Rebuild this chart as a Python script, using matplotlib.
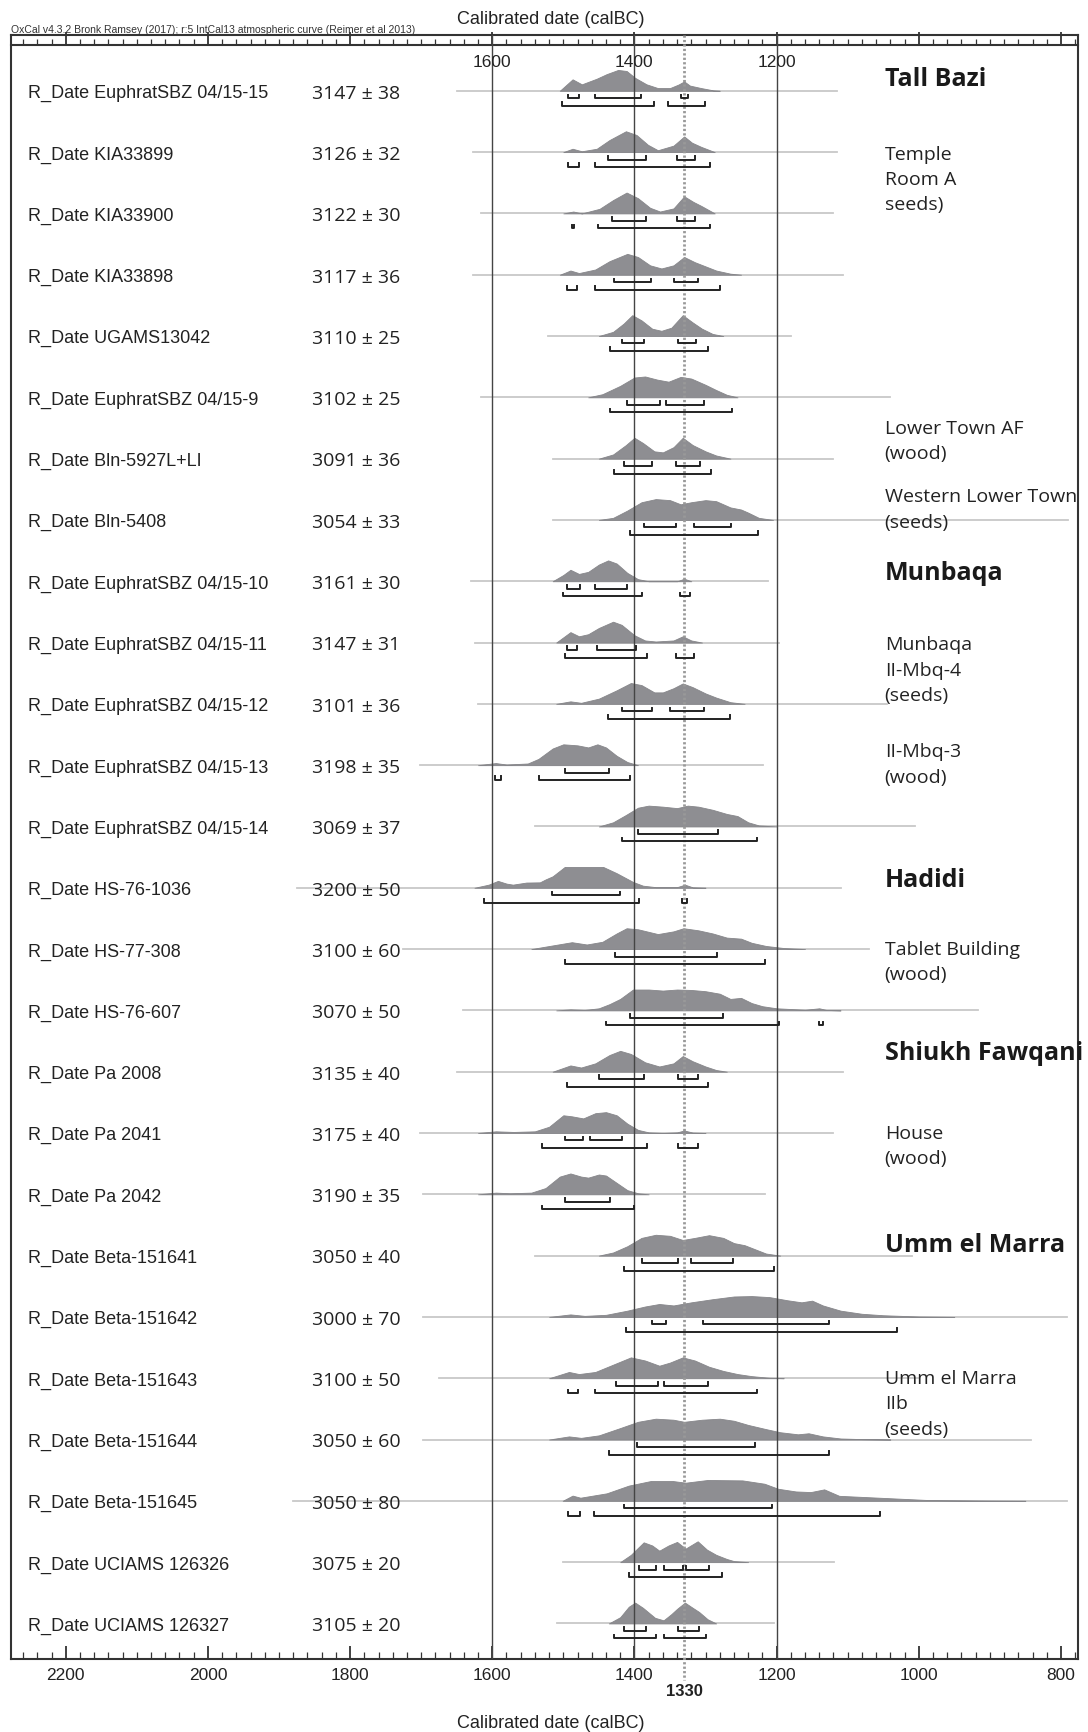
import matplotlib
matplotlib.use("Agg")
import matplotlib.pyplot as plt
from matplotlib.ticker import MultipleLocator
from matplotlib.transforms import blended_transform_factory

plt.rcParams["font.family"] = ["Liberation Sans", "DejaVu Sans"]

# laboratuvar kodlari ve olculen 14C yaslari
samples = ["EuphratSBZ 04/15-15", "KIA33899", "KIA33900", "KIA33898", "UGAMS13042",
           "EuphratSBZ 04/15-9", "Bln-5927L+LI", "Bln-5408", "EuphratSBZ 04/15-10",
           "EuphratSBZ 04/15-11", "EuphratSBZ 04/15-12", "EuphratSBZ 04/15-13",
           "EuphratSBZ 04/15-14", "HS-76-1036", "HS-77-308", "HS-76-607", "Pa 2008",
           "Pa 2041", "Pa 2042", "Beta-151641", "Beta-151642", "Beta-151643",
           "Beta-151644", "Beta-151645", "UCIAMS 126326", "UCIAMS 126327"]
bp = [3147, 3126, 3122, 3117, 3110, 3102, 3091, 3054, 3161, 3147, 3101, 3198, 3069,
      3200, 3100, 3070, 3135, 3175, 3190, 3050, 3000, 3100, 3050, 3050, 3075, 3105]
err = [38, 32, 30, 36, 25, 25, 36, 33, 30, 31, 36, 35, 37,
       50, 60, 50, 40, 40, 35, 40, 70, 50, 60, 80, 20, 20]

# olasilik dagilimlari (yil calBC, goreli yukseklik)
dist_years = [
    [1505, 1487, 1474, 1453, 1439, 1423, 1411, 1399, 1383, 1367, 1350, 1338, 1330, 1322, 1306, 1289, 1280],
    [1500, 1487, 1474, 1453, 1435, 1412, 1397, 1381, 1367, 1345, 1330, 1319, 1306, 1287],
    [1500, 1486, 1474, 1449, 1430, 1411, 1395, 1378, 1364, 1345, 1330, 1317, 1306, 1287],
    [1505, 1490, 1478, 1455, 1435, 1410, 1395, 1378, 1362, 1345, 1330, 1315, 1300, 1285, 1265, 1250],
    [1450, 1430, 1415, 1403, 1390, 1375, 1362, 1348, 1332, 1318, 1305, 1290, 1275],
    [1465, 1445, 1420, 1400, 1385, 1368, 1352, 1335, 1320, 1300, 1285, 1270, 1255],
    [1450, 1430, 1412, 1400, 1388, 1372, 1360, 1345, 1332, 1318, 1300, 1285, 1265],
    [1450, 1430, 1410, 1390, 1370, 1350, 1335, 1320, 1300, 1285, 1265, 1250, 1240, 1225, 1205],
    [1515, 1500, 1490, 1478, 1465, 1450, 1437, 1425, 1410, 1395, 1380, 1340, 1330, 1320],
    [1510, 1498, 1490, 1478, 1465, 1450, 1430, 1418, 1400, 1385, 1370, 1345, 1332, 1320, 1305],
    [1510, 1490, 1475, 1450, 1425, 1405, 1390, 1372, 1360, 1345, 1332, 1318, 1300, 1285, 1265, 1245],
    [1620, 1595, 1580, 1550, 1535, 1515, 1500, 1480, 1465, 1452, 1440, 1425, 1410, 1395],
    [1450, 1430, 1412, 1395, 1380, 1360, 1340, 1325, 1310, 1290, 1270, 1255, 1240, 1225, 1200],
    [1625, 1605, 1592, 1580, 1571, 1552, 1533, 1525, 1515, 1498, 1470, 1444, 1425, 1402, 1388, 1370, 1340, 1329, 1318, 1300],
    [1545, 1528, 1488, 1467, 1445, 1425, 1411, 1395, 1367, 1345, 1331, 1310, 1290, 1270, 1250, 1235, 1215, 1190, 1160],
    [1510, 1490, 1470, 1450, 1435, 1420, 1402, 1380, 1360, 1340, 1320, 1300, 1280, 1265, 1250, 1235, 1220, 1200, 1160, 1140, 1130, 1110],
    [1515, 1490, 1475, 1455, 1435, 1420, 1405, 1385, 1365, 1345, 1332, 1318, 1300, 1285, 1270],
    [1620, 1595, 1570, 1540, 1520, 1500, 1488, 1472, 1455, 1440, 1425, 1410, 1395, 1380, 1360, 1340, 1330, 1318, 1300],
    [1620, 1595, 1575, 1545, 1525, 1505, 1490, 1475, 1465, 1450, 1440, 1425, 1410, 1395, 1380],
    [1450, 1430, 1410, 1390, 1370, 1350, 1332, 1315, 1295, 1275, 1260, 1245, 1230, 1215, 1195],
    [1520, 1490, 1470, 1440, 1410, 1385, 1365, 1345, 1320, 1290, 1260, 1235, 1210, 1185, 1165, 1150, 1135, 1110, 1080, 1050, 1000, 950],
    [1520, 1492, 1478, 1455, 1430, 1405, 1385, 1365, 1350, 1332, 1315, 1295, 1275, 1255, 1235, 1210, 1190],
    [1520, 1492, 1475, 1450, 1420, 1395, 1370, 1345, 1330, 1305, 1280, 1260, 1240, 1215, 1195, 1170, 1155, 1135, 1110, 1080, 1040],
    [1501, 1487, 1476, 1439, 1408, 1377, 1346, 1328, 1297, 1248, 1217, 1198, 1173, 1152, 1133, 1112, 1056, 988, 900, 850],
    [1420, 1405, 1387, 1375, 1365, 1352, 1340, 1328, 1311, 1298, 1285, 1270, 1260, 1240],
    [1436, 1420, 1408, 1399, 1388, 1371, 1359, 1348, 1340, 1329, 1318, 1309, 1297, 1285],
]
dist_heights = [
    [0, 0.55, 0.31, 0.58, 0.8, 1.0, 0.95, 0.62, 0.31, 0.13, 0.13, 0.3, 0.45, 0.25, 0.13, 0.02, 0],
    [0, 0.16, 0.04, 0.16, 0.58, 1.0, 0.82, 0.35, 0.09, 0.31, 0.75, 0.45, 0.25, 0],
    [0, 0.09, 0, 0.22, 0.64, 1.0, 0.73, 0.27, 0.09, 0.24, 0.82, 0.55, 0.36, 0],
    [0, 0.2, 0.08, 0.25, 0.65, 1.0, 0.85, 0.45, 0.3, 0.45, 0.85, 0.6, 0.4, 0.2, 0.05, 0],
    [0, 0.2, 0.6, 1.0, 0.75, 0.35, 0.25, 0.4, 1.0, 0.65, 0.35, 0.1, 0],
    [0, 0.15, 0.55, 0.95, 1.0, 0.85, 0.75, 0.98, 0.9, 0.6, 0.35, 0.12, 0],
    [0, 0.2, 0.65, 1.0, 0.75, 0.35, 0.3, 0.55, 1.0, 0.65, 0.35, 0.15, 0],
    [0, 0.1, 0.45, 0.85, 1.0, 0.95, 0.75, 0.85, 0.95, 0.9, 0.6, 0.5, 0.35, 0.1, 0],
    [0, 0.3, 0.55, 0.35, 0.45, 0.8, 1.0, 0.85, 0.4, 0.1, 0, 0, 0.12, 0],
    [0, 0.3, 0.5, 0.3, 0.4, 0.7, 1.0, 0.85, 0.35, 0.1, 0.05, 0.1, 0.3, 0.1, 0],
    [0, 0.12, 0.05, 0.25, 0.65, 1.0, 0.9, 0.55, 0.55, 0.75, 0.98, 0.8, 0.5, 0.3, 0.08, 0],
    [0, 0.1, 0.03, 0.08, 0.3, 0.8, 1.0, 0.95, 0.85, 1.0, 0.85, 0.45, 0.15, 0],
    [0, 0.2, 0.55, 0.9, 1.0, 0.95, 0.88, 1.0, 0.95, 0.8, 0.6, 0.5, 0.2, 0.05, 0],
    [0, 0.15, 0.33, 0.2, 0.15, 0.25, 0.26, 0.4, 0.55, 1.0, 1.0, 1.0, 0.7, 0.28, 0.1, 0.03, 0.03, 0.15, 0.02, 0],
    [0, 0.1, 0.33, 0.22, 0.35, 0.75, 1.0, 0.95, 0.72, 0.85, 1.0, 0.9, 0.75, 0.55, 0.5, 0.3, 0.15, 0.05, 0],
    [0, 0.05, 0.02, 0.1, 0.3, 0.55, 1.0, 1.0, 0.95, 1.0, 0.98, 0.92, 0.8, 0.55, 0.6, 0.35, 0.2, 0.1, 0.03, 0.1, 0.02, 0],
    [0, 0.3, 0.2, 0.4, 0.8, 1.0, 0.85, 0.45, 0.25, 0.4, 0.75, 0.5, 0.25, 0.08, 0],
    [0, 0.08, 0.05, 0.08, 0.3, 0.85, 0.8, 0.7, 0.95, 1.0, 0.85, 0.45, 0.15, 0.03, 0, 0.03, 0.12, 0.02, 0],
    [0, 0.08, 0.05, 0.08, 0.3, 0.85, 1.0, 0.85, 0.8, 0.95, 0.9, 0.55, 0.2, 0.05, 0],
    [0, 0.15, 0.45, 0.85, 1.0, 0.95, 0.75, 0.85, 0.98, 0.85, 0.6, 0.5, 0.3, 0.1, 0],
    [0, 0.12, 0.05, 0.1, 0.3, 0.5, 0.62, 0.55, 0.7, 0.85, 0.98, 1.0, 0.95, 0.8, 0.7, 0.78, 0.55, 0.3, 0.15, 0.08, 0.02, 0],
    [0, 0.3, 0.2, 0.3, 0.65, 1.0, 0.85, 0.6, 0.75, 1.0, 0.85, 0.55, 0.35, 0.2, 0.1, 0.02, 0],
    [0, 0.15, 0.08, 0.2, 0.55, 0.85, 1.0, 0.95, 0.85, 0.95, 1.0, 0.9, 0.7, 0.5, 0.35, 0.25, 0.3, 0.15, 0.05, 0.02, 0],
    [0, 0.25, 0.15, 0.36, 0.73, 0.95, 0.95, 0.87, 1.0, 0.98, 0.82, 0.58, 0.45, 0.42, 0.55, 0.24, 0.15, 0.04, 0.01, 0],
    [0, 0.35, 0.95, 0.8, 0.55, 0.8, 0.97, 0.65, 1.0, 0.6, 0.35, 0.15, 0.05, 0],
    [0, 0.3, 0.8, 1.0, 0.75, 0.27, 0.15, 0.45, 0.7, 1.0, 0.75, 0.55, 0.2, 0],
]

# gri taban cizgisinin uzandigi aralik
line_start = [1650, 1627, 1616, 1627, 1521, 1616, 1515, 1515, 1630, 1624, 1620, 1701, 1540,
              1875, 1725, 1641, 1650, 1701, 1697, 1540, 1697, 1675, 1697, 1880, 1500, 1509]
line_end = [1115, 1115, 1121, 1106, 1180, 1041, 1121, 790, 1212, 1196, 1045, 1219, 1005,
            1110, 1070, 916, 1106, 1121, 1216, 1010, 792, 1000, 842, 792, 1119, 1204]

# 68.2% ve 95.4% araliklari
range68 = [
    [(1494, 1478), (1456, 1391), (1334, 1324)],
    [(1437, 1384), (1340, 1315)],
    [(1432, 1384), (1340, 1315)],
    [(1429, 1377), (1344, 1310)],
    [(1417, 1386), (1339, 1313)],
    [(1411, 1364), (1355, 1302)],
    [(1414, 1375), (1341, 1308)],
    [(1386, 1341), (1316, 1264)],
    [(1495, 1477), (1456, 1411)],
    [(1495, 1481), (1453, 1398)],
    [(1417, 1375), (1350, 1302)],
    [(1498, 1436)],
    [(1395, 1282)],
    [(1516, 1420)],
    [(1427, 1284)],
    [(1406, 1275)],
    [(1450, 1386), (1339, 1310)],
    [(1498, 1473), (1463, 1417)],
    [(1498, 1434)],
    [(1390, 1338), (1320, 1261)],
    [(1375, 1355), (1303, 1126)],
    [(1426, 1367), (1358, 1296)],
    [(1397, 1230)],
    [(1415, 1207)],
    [(1393, 1369), (1359, 1331), (1327, 1295)],
    [(1415, 1384), (1338, 1309)],
]
range95 = [
    [(1502, 1372), (1353, 1301)],
    [(1493, 1478), (1456, 1294)],
    [(1488, 1485), (1451, 1294)],
    [(1495, 1481), (1456, 1280)],
    [(1434, 1296)],
    [(1434, 1263)],
    [(1429, 1292)],
    [(1406, 1226)],
    [(1501, 1390), (1336, 1322)],
    [(1498, 1383), (1341, 1316)],
    [(1437, 1266)],
    [(1596, 1588), (1534, 1406)],
    [(1417, 1227)],
    [(1611, 1393), (1333, 1326)],
    [(1498, 1216)],
    [(1440, 1196), (1140, 1135)],
    [(1495, 1296)],
    [(1530, 1383), (1339, 1310)],
    [(1530, 1401)],
    [(1414, 1204)],
    [(1412, 1030)],
    [(1493, 1479), (1456, 1227)],
    [(1436, 1126)],
    [(1494, 1476), (1457, 1054)],
    [(1408, 1277)],
    [(1429, 1370), (1358, 1299)],
]

# sag taraftaki yer/baglam notlari
site_names = ["Tall Bazi", "Munbaqa", "Hadidi", "Shiukh Fawqani", "Umm el Marra"]
site_rows = [-0.2, 7.85, 12.86, 15.69, 18.82]
context_notes = ["Temple\nRoom A\nseeds)", "Lower Town AF\n(wood)", "Western Lower Town\n(seeds)",
                 "Munbaqa\nII-Mbq-4\n(seeds)", "II-Mbq-3\n(wood)", "Tablet Building\n(wood)",
                 "House\n(wood)", "Umm el Marra\nIIb\n(seeds)"]
context_rows = [1.44, 5.70, 6.82, 9.44, 10.98, 14.2, 17.2, 21.41]

ref_lines = [1600, 1400, 1200]
marker_year = 1330

n = len(samples)
H = 0.34

fig = plt.figure(figsize=(10.88, 17.33), dpi=100)
ax = fig.add_axes([11 / 1088, 73 / 1733, 1067 / 1088, 1624 / 1733])
ax.set_xlim(2277, 776)
ax.set_ylim(25.58, -0.91)
ax.set_yticks([])

trans = blended_transform_factory(ax.transAxes, ax.transData)

for i in range(n):
    ax.plot([line_start[i], line_end[i]], [i, i], color="#c8c8c8", lw=1.3, zorder=1)
    ys = [i - h * H for h in dist_heights[i]]
    ax.fill_between(dist_years[i], i, ys, facecolor="#8e8e92", edgecolor="#86868a", lw=0.6, zorder=2)
    for a, b in range68[i]:
        y = i + 0.122
        ax.plot([a, a, b, b], [y - 0.06, y, y, y - 0.06], color="#222222", lw=1.4, zorder=4)
    for a, b in range95[i]:
        y = i + 0.245
        ax.plot([a, a, b, b], [y - 0.06, y, y, y - 0.06], color="#222222", lw=1.4, zorder=4)

    ax.text(0.0156, i + 0.03, "R_Date " + samples[i], transform=trans, ha="left", va="center",
            fontsize=13, color="#222222")
    ax.text(0.282, i + 0.03, f"{bp[i]} \u00b1 {err[i]}", transform=trans, ha="left", va="center",
            fontsize=14, family="Open Sans", color="#222222")

for yr in ref_lines:
    ax.axvline(yr, color="#444444", lw=1.0, zorder=3)
    ax.text(yr, -0.484, str(yr), ha="center", va="center", fontsize=12.5, color="#222222")

ax.plot([marker_year, marker_year], [-0.91, 25.92], color="#999999", lw=2.0,
        linestyle=(0, (0.8, 0.8)), zorder=3, clip_on=False)
ax.text(marker_year, 26.1, str(marker_year), ha="center", va="center", fontsize=12,
        fontweight="bold", color="#222222", clip_on=False)

for name, r in zip(site_names, site_rows):
    ax.text(1048, r, name, ha="left", va="center", fontsize=18, fontweight="bold",
            family="Open Sans", color="#1a1a1a")
for note, r in zip(context_notes, context_rows):
    ax.text(1048, r, note, ha="left", va="center", fontsize=14, family="Open Sans",
            color="#222222", linespacing=1.53)

ax.xaxis.set_major_locator(MultipleLocator(200))
ax.xaxis.set_minor_locator(MultipleLocator(20))
ax.tick_params(axis="x", which="major", direction="in", length=9.4, width=1.3,
               labelsize=12.5, pad=5.5, color="#333333", labelcolor="#222222")
ax.tick_params(axis="x", which="minor", direction="in", length=4.8, width=0.9, color="#333333")
for s in ax.spines.values():
    s.set_linewidth(1.5)
    s.set_color("#333333")

# ust olcek (ayri cizgi, tikler yukari)
sec = ax.secondary_xaxis((1660 - 45.7) / 1624)
sec.xaxis.set_major_locator(MultipleLocator(200))
sec.xaxis.set_minor_locator(MultipleLocator(20))
sec.tick_params(axis="x", which="major", direction="out", length=9.4, width=1.3,
                color="#333333", labeltop=False, labelbottom=False)
sec.tick_params(axis="x", which="minor", direction="out", length=4.5, width=0.9, color="#333333")
sec.spines["top"].set_linewidth(1.5)
sec.spines["top"].set_color("#333333")

fig.text(551 / 1088, 1 - 20 / 1733, "Calibrated date (calBC)", ha="center", va="center",
         fontsize=13, color="#222222")
fig.text(551 / 1088, 1 - 1724 / 1733, "Calibrated date (calBC)", ha="center", va="center",
         fontsize=13, color="#222222")
fig.text(11 / 1088, 1 - 30 / 1733,
         "OxCal v4.3.2 Bronk Ramsey (2017); r:5 IntCal13 atmospheric curve (Reimer et al 2013)",
         ha="left", va="center", fontsize=7.5, color="#333333")

fig.savefig("out.png", dpi=100)
